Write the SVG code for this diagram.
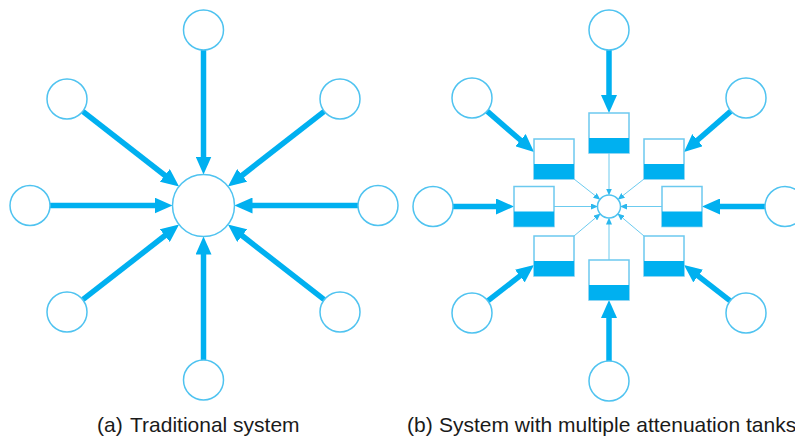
<svg xmlns="http://www.w3.org/2000/svg" width="795" height="436" viewBox="0 0 795 436">
<style>
.c{fill:#fff;stroke:#4fc3f0;stroke-width:1.5}
.a{stroke:#00b0f0;stroke-width:5.5;fill:none;marker-end:url(#big)}
.t{stroke:#6ccbef;stroke-width:1;fill:none;marker-end:url(#small)}
.tank{fill:#fff;stroke:#6cc9ef;stroke-width:1.5}
.lvl{fill:#00b0f0}
.lbl{font-family:"Liberation Sans",Arial,sans-serif;font-size:21px;fill:#1a1a1a}
</style>
<defs>
<marker id="big" markerUnits="userSpaceOnUse" markerWidth="18" markerHeight="16" refX="1" refY="8" orient="auto" viewBox="0 0 18 16"><path d="M0,0 L18,8 L0,16 z" fill="#00b0f0"/></marker>
<marker id="small" markerUnits="userSpaceOnUse" markerWidth="7" markerHeight="6" refX="0.5" refY="3" orient="auto" viewBox="0 0 7 6"><path d="M0,0 L7,3 L0,6 z" fill="#2bb8ee"/></marker>
</defs>

<g id="connectors">
<line class="a" x1="203.5" y1="50" x2="203.5" y2="157.5"/>
<line class="a" x1="203.5" y1="360" x2="203.5" y2="253.5"/>
<line class="a" x1="50" y1="205.5" x2="155.5" y2="205.5"/>
<line class="a" x1="358" y1="205.5" x2="251.5" y2="205.5"/>
<line class="a" x1="82.8" y1="111.3" x2="165.66" y2="175.97"/>
<line class="a" x1="324.2" y1="111.3" x2="241.34" y2="175.97"/>
<line class="a" x1="82.8" y1="299.7" x2="165.66" y2="235.03"/>
<line class="a" x1="324.2" y1="299.7" x2="241.34" y2="235.03"/>

<line class="a" x1="609" y1="50" x2="609" y2="96"/>
<line class="a" x1="609" y1="361" x2="609" y2="317"/>
<line class="a" x1="453" y1="206.5" x2="497" y2="206.5"/>
<line class="a" x1="765" y1="206.5" x2="719" y2="206.5"/>
<line class="a" x1="487.1" y1="111.1" x2="521.2" y2="140.8"/>
<line class="a" x1="730.9" y1="111.1" x2="696.8" y2="140.8"/>
<line class="a" x1="487.8" y1="300.8" x2="520.6" y2="275.4"/>
<line class="a" x1="730.2" y1="300.8" x2="697.4" y2="275.4"/>

<line class="t" x1="609" y1="153" x2="609" y2="189"/>
<line class="t" x1="609" y1="260" x2="609" y2="224"/>
<line class="t" x1="554" y1="206.5" x2="591.5" y2="206.5"/>
<line class="t" x1="662" y1="206.5" x2="626.5" y2="206.5"/>
<line class="t" x1="574" y1="179" x2="595.24" y2="195.7"/>
<line class="t" x1="644" y1="179" x2="622.76" y2="195.7"/>
<line class="t" x1="574" y1="236" x2="595.62" y2="217.78"/>
<line class="t" x1="644" y1="236" x2="622.38" y2="217.78"/>
</g>

<g id="a-center"><circle class="c" cx="203.5" cy="205.5" r="31"/></g>
<g id="a-top"><circle class="c" cx="203.5" cy="30" r="20"/></g>
<g id="a-bottom"><circle class="c" cx="203.5" cy="380" r="20"/></g>
<g id="a-left"><circle class="c" cx="30" cy="205.5" r="20"/></g>
<g id="a-right"><circle class="c" cx="378" cy="205.5" r="20"/></g>
<g id="a-topleft"><circle class="c" cx="67" cy="99" r="20"/></g>
<g id="a-topright"><circle class="c" cx="340" cy="99" r="20"/></g>
<g id="a-bottomleft"><circle class="c" cx="67" cy="312" r="20"/></g>
<g id="a-bottomright"><circle class="c" cx="340" cy="312" r="20"/></g>

<g id="b-center"><circle class="c" cx="609" cy="206.5" r="11.5"/></g>
<g id="b-top"><circle class="c" cx="609" cy="30" r="20"/></g>
<g id="b-bottom"><circle class="c" cx="609" cy="381" r="20"/></g>
<g id="b-left"><circle class="c" cx="433" cy="206.5" r="20"/></g>
<g id="b-right"><circle class="c" cx="785" cy="206.5" r="20"/></g>
<g id="b-topleft"><circle class="c" cx="472" cy="98" r="20"/></g>
<g id="b-topright"><circle class="c" cx="746" cy="98" r="20"/></g>
<g id="b-bottomleft"><circle class="c" cx="472" cy="313" r="20"/></g>
<g id="b-bottomright"><circle class="c" cx="746" cy="313" r="20"/></g>

<g id="tank-top"><rect class="tank" x="589" y="113" width="40" height="40"/><rect class="lvl" x="589" y="138" width="40" height="15"/></g>
<g id="tank-topleft"><rect class="tank" x="534" y="139" width="40" height="40"/><rect class="lvl" x="534" y="164" width="40" height="15"/></g>
<g id="tank-topright"><rect class="tank" x="644" y="139" width="40" height="40"/><rect class="lvl" x="644" y="164" width="40" height="15"/></g>
<g id="tank-left"><rect class="tank" x="514" y="186.5" width="40" height="40"/><rect class="lvl" x="514" y="211.5" width="40" height="15"/></g>
<g id="tank-right"><rect class="tank" x="662" y="186.5" width="40" height="40"/><rect class="lvl" x="662" y="211.5" width="40" height="15"/></g>
<g id="tank-bottomleft"><rect class="tank" x="534" y="236" width="40" height="40"/><rect class="lvl" x="534" y="261" width="40" height="15"/></g>
<g id="tank-bottom"><rect class="tank" x="589" y="260" width="40" height="40"/><rect class="lvl" x="589" y="285" width="40" height="15"/></g>
<g id="tank-bottomright"><rect class="tank" x="644" y="236" width="40" height="40"/><rect class="lvl" x="644" y="261" width="40" height="15"/></g>

<g id="labels">
<text class="lbl" x="97" y="432">(a)</text>
<text class="lbl" x="130" y="432">Traditional system</text>
<text class="lbl" x="407" y="432">(b)</text>
<text class="lbl" x="439" y="432">System with multiple attenuation tanks</text>
</g>
</svg>
